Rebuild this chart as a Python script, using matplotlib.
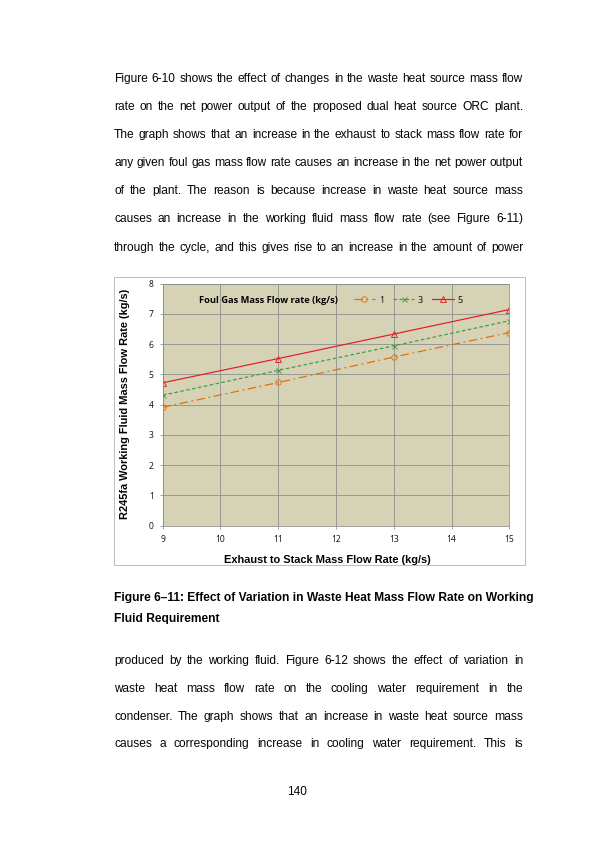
import numpy as np
import matplotlib
matplotlib.use('Agg')
import matplotlib.pyplot as plt
from matplotlib.patches import Rectangle

plt.rcParams['text.hinting'] = 'default'

# data
exhaust = [9, 11, 13, 15]
foul_1 = [3.91, 4.73, 5.57, 6.38]
foul_3 = [4.31, 5.13, 5.94, 6.77]
foul_5 = [4.72, 5.52, 6.33, 7.14]
x_ticks = [9, 10, 11, 12, 13, 14, 15]
y_ticks = [0, 1, 2, 3, 4, 5, 6, 7, 8]

top_lines = [
    "Figure 6-10 shows the effect of changes in the waste heat source mass flow",
    "rate on the net power output of the proposed dual heat source ORC plant.",
    "The graph shows that an increase in the exhaust to stack mass flow rate for",
    "any given foul gas mass flow rate causes an increase in the net power output",
    "of the plant. The reason is because increase in waste heat source mass",
    "causes an increase in the working fluid mass flow rate (see Figure 6-11)",
    "through the cycle, and this gives rise to an increase in the amount of power",
]
bottom_lines = [
    "produced by the working fluid. Figure 6-12 shows the effect of variation in",
    "waste heat mass flow rate on the cooling water requirement in the",
    "condenser. The graph shows that an increase in waste heat source mass",
    "causes a corresponding increase in cooling water requirement. This is",
]
caption = ["Figure 6\u201311: Effect of Variation in Waste Heat Mass Flow Rate on Working",
           "Fluid Requirement"]

W, H = 595, 842
fig = plt.figure(figsize=(W/72, H/72), dpi=72)
fig.patch.set_facecolor('white')
body_font = 'Liberation Sans'
fs = 12

def fx(x): return x / W
def fy(y): return 1 - y / H

renderer = fig.canvas.get_renderer()

# one text per word, gaps stretched so the line fills the column
def justified(line, y, left=114, right=523):
    words = line.split()
    txts = [fig.text(0, fy(y), w, fontsize=fs, family=body_font, va='baseline') for w in words]
    widths = [t.get_window_extent(renderer).width for t in txts]
    gap = (right - left - sum(widths)) / (len(words) - 1)
    x = left
    for t, w in zip(txts, widths):
        t.set_x(fx(x))
        x += w + gap

for i, line in enumerate(top_lines):
    justified(line, 82 + i * 28.1)
for i, line in enumerate(bottom_lines):
    justified(line, 664 + i * 27.8)
fig.text(fx(114), fy(601), caption[0], fontsize=fs, family=body_font, weight='bold', va='baseline')
fig.text(fx(114), fy(622), caption[1], fontsize=fs, family=body_font, weight='bold', va='baseline')
fig.text(fx(297), fy(795), "140", fontsize=fs, family=body_font, ha='center', va='baseline')

# chart frame
fig.patches.append(Rectangle((fx(114), fy(565)), (525 - 114) / W, (565 - 277) / H,
                             transform=fig.transFigure, fill=False, edgecolor='#BFBFBF', lw=1))

ax = fig.add_axes([fx(162.7), fy(525.7), (509.3 - 162.7) / W, (525.7 - 283.5) / H])
ax.set_facecolor('#D6D2B6')
ax.plot(exhaust, foul_1, color='#E46C0A', ls=(0, (7, 3, 1.5, 3)), lw=1.2, marker='o', ms=5.5,
        mfc='none', mew=0.9, label='1')
ax.plot(exhaust, foul_3, color='#3C9E3C', ls=(0, (3, 2)), lw=1.2, marker='x', ms=5,
        mew=0.9, label='3')
ax.plot(exhaust, foul_5, color='#E41E26', ls='-', lw=1.2, marker='^', ms=6,
        mfc='none', mew=0.9, label='5')
ax.set_xlim(9, 15)
ax.set_ylim(0, 8)
ax.set_xticks(x_ticks)
ax.set_yticks(y_ticks)
ax.grid(True, color='#8C8C8C', lw=0.8)
ax.set_axisbelow(True)
for s in ax.spines.values():
    s.set_color('#8C8C8C')
    s.set_linewidth(0.8)
ax.tick_params(colors='#8C8C8C', labelcolor='black', labelsize=8.5, length=3, width=0.8)
ax.tick_params(axis='x', pad=6)
ax.tick_params(axis='y', pad=6)
for lab in ax.get_xticklabels() + ax.get_yticklabels():
    lab.set_family('Open Sans')

fig.text(fx(327), fy(560), 'Exhaust to Stack Mass Flow Rate (kg/s)', fontsize=11, weight='bold',
         family='Liberation Sans', ha='center', va='center')
fig.text(fx(125), fy(404), 'R245fa Working Fluid Mass Flow Rate (kg/s)', fontsize=11,
         weight='bold', family='Liberation Sans', ha='center', va='center', rotation=90)

fig.text(fx(199), fy(300), 'Foul Gas Mass Flow rate (kg/s)', fontsize=9.3, weight='bold',
         family='Open Sans', va='center')
fig.legend(loc='center left', bbox_to_anchor=(fx(349), fy(300)), ncol=3, frameon=False,
           borderpad=0, handlelength=2.4, handletextpad=0.4, columnspacing=1.0,
           prop={'family': 'Open Sans', 'size': 9})

fig.savefig('out.png', dpi=72)
